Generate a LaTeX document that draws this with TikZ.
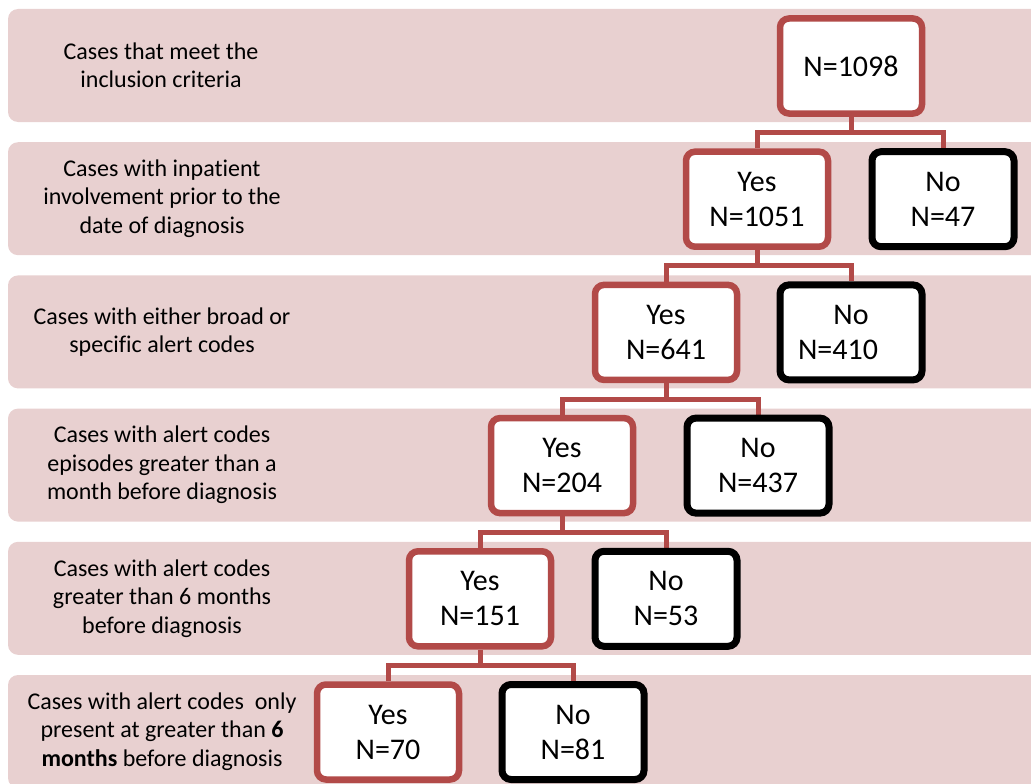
\documentclass[tikz,border=0pt]{standalone}
\usepackage{fontspec}
\setmainfont[Ligatures=NoCommon]{Carlito}
\usetikzlibrary{calc}
\definecolor{bandcol}{RGB}{232,208,208}
\definecolor{redb}{RGB}{178,74,72}
\pgfdeclarelayer{bands}
\pgfdeclarelayer{conns}
\pgfsetlayers{bands,conns,main}
\begin{document}
\begin{tikzpicture}[x=1pt,y=-1pt,
  bandbox/.style={fill=bandcol, rounded corners=10pt},
  yesbox/.style={draw=redb, line width=6.5pt, fill=white, rounded corners=9pt,
    minimum width=142pt, minimum height=95pt, align=center, inner sep=0pt,
    font=\fontsize{30}{35}\selectfont},
  nobox/.style={yesbox, draw=black, line width=7pt},
  lbl/.style={align=center, inner sep=0pt, font=\fontsize{24}{28.5}\selectfont},
  conn/.style={draw=redb, line width=5pt}]
\useasboundingbox (0,0) rectangle (1031,784);
\clip (0,0) rectangle (1031,784);
\begin{pgfonlayer}{bands}
\foreach \k in {0,...,5}{
  \fill[bandbox] (8,{9+133.2*\k}) rectangle (1045,{122+133.2*\k});
}
\end{pgfonlayer}
% left labels
\node[lbl] (l0) at (161,65.5) {Cases that meet the\\inclusion criteria};
\node[lbl] (l1) at (162,198.7) {Cases with inpatient\\involvement prior to the\\date of diagnosis};
\node[lbl] (l2) at (162,331.9) {Cases with either broad or\\specific alert codes};
\node[lbl] (l3) at (162,465.1) {Cases with alert codes\\episodes greater than a\\month before diagnosis};
\node[lbl] (l4) at (162,598.3) {Cases with alert codes\\greater than 6 months\\before diagnosis};
\node[lbl] (l5) at (162,731.5) {Cases with alert codes\ \ only\\present at greater than \textbf{6}\\\textbf{months} before diagnosis};
% boxes
\node[yesbox] (n0) at (851,66) {N=1098};
\node[yesbox] (y1) at (757,199.2) {Yes\\N=1051};
\node[nobox]  (no1) at (943,199.2) {No\\N=47};
\node[yesbox] (y2) at (666,332.4) {Yes\\N=641};
\node[nobox]  (no2) at (851,332.4) {No\\N=410\hspace*{26pt}};
\node[yesbox] (y3) at (562,465.6) {Yes\\N=204};
\node[nobox]  (no3) at (758,465.6) {No\\N=437};
\node[yesbox] (y4) at (480,598.8) {Yes\\N=151};
\node[nobox]  (no4) at (666,598.8) {No\\N=53};
\node[yesbox] (y5) at (388,732) {Yes\\N=70};
\node[nobox]  (no5) at (573,732) {No\\N=81};
% connectors
\begin{pgfonlayer}{conns}
\foreach \p/\a/\b in {n0/y1/no1, y1/y2/no2, y2/y3/no3, y3/y4/no4, y4/y5/no5}{
  \path (\p.south) -- (\a.north) coordinate[pos=.5] (m);
  \draw[conn] (\p.south) -- (\p.south |- m);
  \draw[conn] (\a.north) |- (\b.north |- m) -- (\b.north);
}
\end{pgfonlayer}
\end{tikzpicture}
\end{document}
